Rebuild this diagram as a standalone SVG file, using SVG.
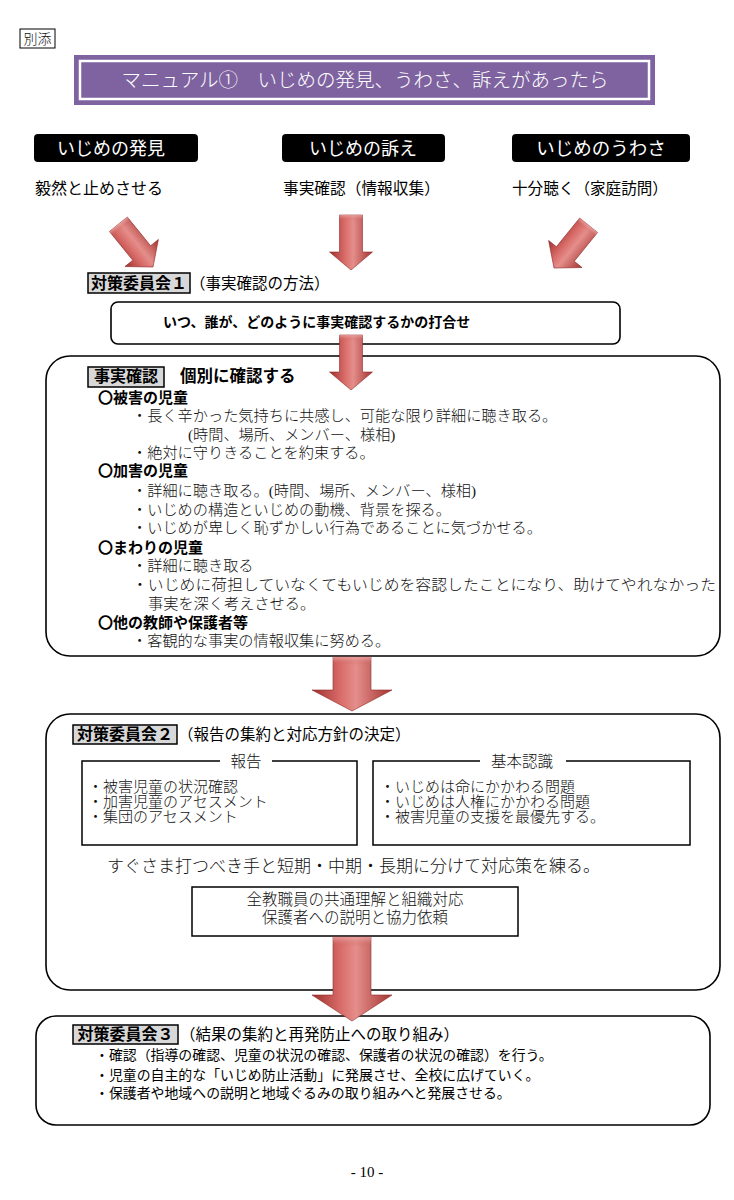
<svg xmlns="http://www.w3.org/2000/svg" width="734" height="1200" viewBox="0 0 734 1200">
<defs>
<linearGradient id="ag" x1="0" y1="0" x2="1" y2="0">
<stop offset="0" stop-color="#9E2F2C"/>
<stop offset="0.35" stop-color="#D86B68"/>
<stop offset="0.55" stop-color="#E58E8B"/>
<stop offset="1" stop-color="#A3332F"/>
</linearGradient>
<linearGradient id="ah" x1="0" y1="0" x2="0" y2="1">
<stop offset="0" stop-color="#F2B5B3" stop-opacity="0.7"/>
<stop offset="1" stop-color="#C0504D" stop-opacity="0"/>
</linearGradient>
<path id="arS" d="M-11.5,-55 L11.5,-55 L11.5,-18 L21.5,-18 L0,0 L-21.5,-18 L-11.5,-18 Z"/>
</defs>
<style>
.g{font-family:"Noto Sans CJK JP","Liberation Sans",sans-serif;fill:#000}
.m{font-family:"Liberation Serif","Noto Sans CJK JP",serif;font-weight:300;fill:#111}
.b{font-weight:bold}
.box{fill:#fff;stroke:#000;stroke-width:1.6}
.lab{fill:#D8D8D8;stroke:#000;stroke-width:1.5}
.blk{fill:#000}
.arr{fill:url(#ag);stroke:#8E2B29;stroke-width:0.6}
</style>
<rect width="734" height="1200" fill="#fff"/>

<g id="bessou">
<rect x="20" y="29" width="35" height="19" fill="#fff" stroke="#000" stroke-width="1"/>
<text x="37.5" y="44" class="m" font-size="14" text-anchor="middle">別添</text>
</g>

<g id="title">
<rect x="74" y="55" width="581" height="50" fill="#7E63A0"/>
<rect x="80" y="61" width="569" height="38" fill="none" stroke="#fff" stroke-width="2.5"/>
<text x="365" y="87" class="g" font-size="19.5" font-weight="300" text-anchor="middle" style="fill:#fff">マニュアル①　いじめの発見、うわさ、訴えがあったら</text>
</g>

<g id="src1">
<rect x="34" y="134" width="164" height="28" rx="4" class="blk"/>
<text x="111" y="155" class="g" font-size="18" text-anchor="middle" style="fill:#fff">いじめの発見</text>
<text x="35" y="194" class="g" font-size="16">毅然と止めさせる</text>
</g>
<g id="src2">
<rect x="282" y="134" width="163" height="28" rx="4" class="blk"/>
<text x="363" y="155" class="g" font-size="18" text-anchor="middle" style="fill:#fff">いじめの訴え</text>
<text x="283" y="194" class="g" font-size="15.7">事実確認（情報収集）</text>
</g>
<g id="src3">
<rect x="512" y="134" width="178" height="28" rx="4" class="blk"/>
<text x="601" y="155" class="g" font-size="18.5" text-anchor="middle" style="fill:#fff">いじめのうわさ</text>
<text x="512" y="194" class="g" font-size="15.6">十分聴く（家庭訪問）</text>
</g>

<g id="meeting1">
<rect x="88" y="273" width="102" height="20" class="lab"/>
<text x="139" y="289" class="g b" font-size="16" text-anchor="middle">対策委員会１</text>
<text x="190" y="289" class="g" font-size="15.5">（事実確認の方法）</text>
<rect x="111" y="302" width="509" height="42" rx="7" class="box"/>
<text x="163" y="327" class="g b" font-size="14">いつ、誰が、どのように事実確認するかの打合せ</text>
</g>

<g id="factcheck">
<rect x="46" y="356" width="674" height="300" rx="24" class="box"/>
<rect x="88" y="367" width="76" height="20" class="lab"/>
<text x="126" y="382" class="g b" font-size="16" text-anchor="middle">事実確認</text>
<text x="180" y="382" class="g b" font-size="16.5">個別に確認する</text>
<text x="98" y="403" class="g b" font-size="15">〇被害の児童</text>
<text x="132" y="421" class="m" font-size="15.2">・長く辛かった気持ちに共感し、可能な限り詳細に聴き取る。</text>
<text x="188" y="440" class="m" font-size="15.2">(時間、場所、メンバー、様相)</text>
<text x="132" y="458" class="m" font-size="15.2">・絶対に守りきることを約束する。</text>
<text x="98" y="476" class="g b" font-size="15">〇加害の児童</text>
<text x="132" y="496" class="m" font-size="15.2">・詳細に聴き取る。(時間、場所、メンバー、様相)</text>
<text x="132" y="515" class="m" font-size="15.2">・いじめの構造といじめの動機、背景を探る。</text>
<text x="132" y="533" class="m" font-size="15.2">・いじめが卑しく恥ずかしい行為であることに気づかせる。</text>
<text x="98" y="553" class="g b" font-size="15">〇まわりの児童</text>
<text x="132" y="571" class="m" font-size="15.2">・詳細に聴き取る</text>
<text x="132" y="590" class="m" font-size="15.2" textLength="584" lengthAdjust="spacingAndGlyphs">・いじめに荷担していなくてもいじめを容認したことになり、助けてやれなかった</text>
<text x="148" y="609" class="m" font-size="15.2">事実を深く考えさせる。</text>
<text x="98" y="628" class="g b" font-size="15">〇他の教師や保護者等</text>
<text x="132" y="646" class="m" font-size="15.2">・客観的な事実の情報収集に努める。</text>
</g>

<g id="meeting2">
<rect x="46" y="714" width="674" height="276" rx="24" class="box"/>
<rect x="73" y="725" width="104" height="19" class="lab"/>
<text x="125" y="740" class="g b" font-size="16" text-anchor="middle">対策委員会２</text>
<text x="178" y="740" class="g" font-size="15.5">（報告の集約と対応方針の決定）</text>
<rect x="82" y="761" width="275" height="84" fill="none" stroke="#000" stroke-width="1.5"/>
<rect x="220" y="753" width="52" height="16" fill="#fff"/>
<text x="246" y="767" class="m" font-size="15.5" text-anchor="middle">報告</text>
<text x="88" y="792" class="m" font-size="15">・被害児童の状況確認</text>
<text x="88" y="807" class="m" font-size="15">・加害児童のアセスメント</text>
<text x="88" y="822" class="m" font-size="15">・集団のアセスメント</text>
<rect x="373" y="761" width="317" height="84" fill="none" stroke="#000" stroke-width="1.5"/>
<rect x="480" y="753" width="86" height="16" fill="#fff"/>
<text x="522" y="767" class="m" font-size="15.5" text-anchor="middle">基本認識</text>
<text x="380" y="792" class="m" font-size="15">・いじめは命にかかわる問題</text>
<text x="380" y="807" class="m" font-size="15">・いじめは人権にかかわる問題</text>
<text x="380" y="822" class="m" font-size="15">・被害児童の支援を最優先する。</text>
<text x="107" y="872" class="m" font-size="17">すぐさま打つべき手と短期・中期・長期に分けて対応策を練る。</text>
<rect x="192" y="887" width="326" height="49" fill="#fff" stroke="#000" stroke-width="1.5"/>
<text x="355" y="905" class="m" font-size="15.5" text-anchor="middle">全教職員の共通理解と組織対応</text>
<text x="355" y="923" class="m" font-size="15.5" text-anchor="middle">保護者への説明と協力依頼</text>
</g>

<g id="meeting3">
<rect x="36" y="1016" width="674" height="109" rx="20" class="box"/>
<rect x="73" y="1025" width="105" height="19" class="lab"/>
<text x="125.5" y="1040" class="g b" font-size="16" text-anchor="middle">対策委員会３</text>
<text x="180" y="1040" class="g" font-size="15.5">（結果の集約と再発防止への取り組み）</text>
<text x="95" y="1060" class="g" font-size="13.9">・確認（指導の確認、児童の状況の確認、保護者の状況の確認）を行う。</text>
<text x="95" y="1080" class="g" font-size="13.9">・児童の自主的な「いじめ防止活動」に発展させ、全校に広げていく。</text>
<text x="95" y="1098" class="g" font-size="13.9">・保護者や地域への説明と地域ぐるみの取り組みへと発展させる。</text>
</g>

<g id="pageno">
<text x="367" y="1177" font-family="Liberation Serif, serif" font-size="15" text-anchor="middle">- 10 -</text>
</g>

<g id="connectors">
<g transform="translate(153,267) rotate(-39)"><use href="#arS" class="arr"/><rect x="-11.5" y="-55" width="23" height="6" fill="url(#ah)"/></g>
<g transform="translate(351,270)"><use href="#arS" class="arr"/><rect x="-11.5" y="-55" width="23" height="6" fill="url(#ah)"/></g>
<g transform="translate(554,268) rotate(39)"><use href="#arS" class="arr"/><rect x="-11.5" y="-55" width="23" height="6" fill="url(#ah)"/></g>
<g transform="translate(351,390)"><use href="#arS" class="arr"/><rect x="-11.5" y="-55" width="23" height="6" fill="url(#ah)"/></g>
<g transform="translate(352,711)">
<path d="M-19,-54 L19,-54 L19,-21 L40,-21 L0,0 L-40,-21 L-19,-21 Z" class="arr"/>
<rect x="-19" y="-54" width="38" height="8" fill="url(#ah)"/>
</g>
<g transform="translate(352,1021)">
<path d="M-19,-84 L19,-84 L19,-26 L40,-26 L0,0 L-40,-26 L-19,-26 Z" class="arr"/>
<rect x="-19" y="-84" width="38" height="10" fill="url(#ah)"/>
</g>
</g>
</svg>
